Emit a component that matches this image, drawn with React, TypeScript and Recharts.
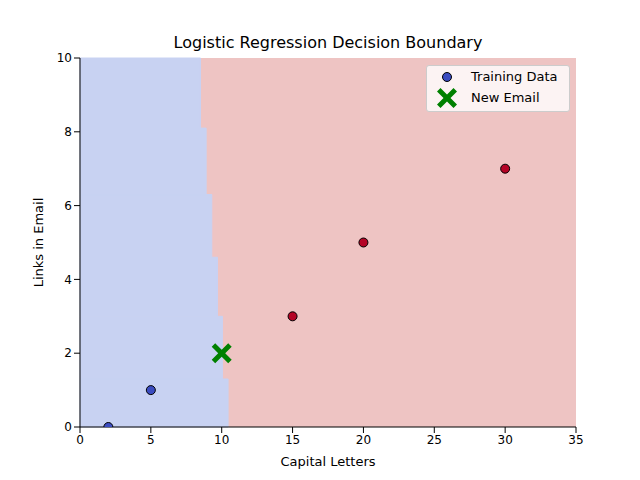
import React from 'react';
import { ComposedChart, Scatter, XAxis, YAxis, ReferenceArea, Label } from 'recharts';

const bandLow = [8.1, 6.3, 4.6, 3.0, 1.3, 0];
const bandHigh = [10, 8.1, 6.3, 4.6, 3.0, 1.3];
const bandBoundaryX = [8.5, 8.9, 9.3, 9.7, 10.05, 10.45];
const blueX = [2, 5];
const blueY = [0, 1];
const redX = [15, 20, 30];
const redY = [3, 5, 7];
const newX = [10];
const newY = [2];
const xTicks = [0, 5, 10, 15, 20, 25, 30, 35];
const yTicks = [0, 2, 4, 6, 8, 10];

const blueData = blueX.map((x, i) => ({ x, y: blueY[i] }));
const redData = redX.map((x, i) => ({ x, y: redY[i] }));
const newData = newX.map((x, i) => ({ x, y: newY[i] }));

const Cross = (p: any) => {
  const { cx, cy } = p;
  const s = 10, w = 3.5;
  const d = `M${cx - s},${cy - s + w}L${cx - s + w},${cy - s}L${cx},${cy - w}L${cx + s - w},${cy - s}L${cx + s},${cy - s + w}L${cx + w},${cy}L${cx + s},${cy + s - w}L${cx + s - w},${cy + s}L${cx},${cy + w}L${cx - s + w},${cy + s}L${cx - s},${cy + s - w}L${cx - w},${cy}Z`;
  return <path d={d} fill="#008000" />;
};

export default function App() {
  const font = 'DejaVu Sans, sans-serif';
  return (
    <div style={{ position: 'absolute', left: 0, top: 0, width: 640, height: 480, background: '#fff', fontFamily: font }}>
      <div style={{ position: 'absolute', top: 33, width: 656, textAlign: 'center', fontSize: 16, color: '#000' }}>
        Logistic Regression Decision Boundary
      </div>
      <ComposedChart width={640} height={480} margin={{ top: 58, right: 64, bottom: 23, left: 40 }}>
        <XAxis type="number" dataKey="x" domain={[0, 35]} ticks={xTicks} height={30} tick={{ fill: '#000', fontSize: 12, fontFamily: font }} tickLine={{ stroke: '#000' }} axisLine={{ stroke: '#000' }} allowDataOverflow>
          <Label value="Capital Letters" position="insideBottom" offset={-9} style={{ fill: '#000', fontSize: 13, fontFamily: font }} />
        </XAxis>
        <YAxis type="number" dataKey="y" domain={[0, 10]} ticks={yTicks} width={40} tick={{ fill: '#000', fontSize: 12, fontFamily: font }} tickLine={{ stroke: '#000' }} axisLine={{ stroke: '#000' }} allowDataOverflow>
          <Label value="Links in Email" angle={-90} position="insideLeft" offset={-2} style={{ fill: '#000', fontSize: 13, fontFamily: font, textAnchor: 'middle' }} />
        </YAxis>
        <ReferenceArea x1={0} x2={35} y1={0} y2={10} fill="#eec4c3" fillOpacity={1} stroke="none" />
        {bandLow.map((lo, i) => (
          <ReferenceArea key={i} x1={0} x2={bandBoundaryX[i]} y1={lo} y2={bandHigh[i]} fill="#c8d2f2" fillOpacity={1} stroke="#c8d2f2" strokeWidth={1} />
        ))}
        <Scatter data={blueData} fill="#3b4cc0" stroke="#000" isAnimationActive={false} shape={(p: any) => <circle cx={p.cx} cy={p.cy} r={4.5} fill="#3b4cc0" stroke="#000" />} />
        <Scatter data={redData} fill="#b40426" stroke="#000" isAnimationActive={false} shape={(p: any) => <circle cx={p.cx} cy={p.cy} r={4.5} fill="#b40426" stroke="#000" />} />
        <Scatter data={newData} isAnimationActive={false} shape={Cross} />
      </ComposedChart>
      <div style={{ position: 'absolute', left: 426, top: 65, width: 142, height: 45, background: 'rgba(255,255,255,0.8)', border: '1px solid #ccc', borderRadius: 3, fontSize: 13 }}>
        <svg width={30} height={45} style={{ position: 'absolute', left: 4, top: 0 }}>
          <circle cx={16} cy={11} r={4.5} fill="#3b4cc0" stroke="#000" />
          <Cross cx={16} cy={32} />
        </svg>
        <div style={{ position: 'absolute', left: 44, top: 3 }}>Training Data</div>
        <div style={{ position: 'absolute', left: 44, top: 24 }}>New Email</div>
      </div>
    </div>
  );
}
